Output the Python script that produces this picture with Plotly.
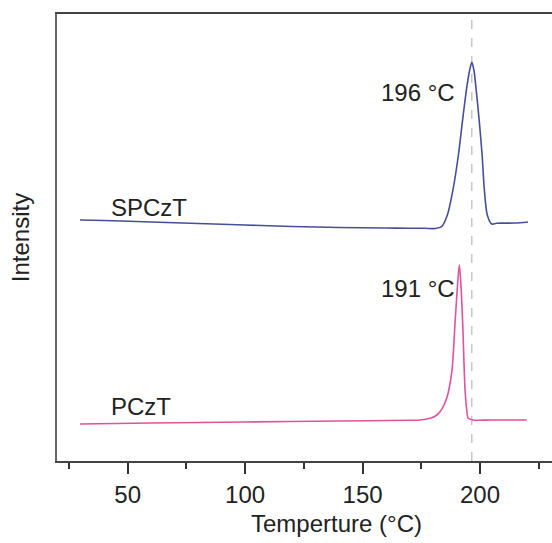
import plotly.graph_objects as go

# SPCzT trace (temperature in degC, intensity in arbitrary units)
spczt_T = [29.7, 40, 60, 80, 100, 120, 140, 160, 170, 176.6, 181.0, 183.7, 186.1, 188.6, 190.8, 192.5,
           194.3, 195.6, 196.5, 197.4, 198.3, 199.7, 200.9, 201.8, 203.1, 205.0, 207.0,
           210.6, 215, 220.4]
spczt_I = [241, 240.5, 239, 237.5, 236, 234.5, 233.5, 233, 232.8, 232.7, 232.5, 234.5, 246, 272.7, 306, 339.3,
           372.7, 391, 398.7, 391, 372.7, 339.3, 306, 272.7, 246, 237, 237.8,
           237.9, 238, 239]

# PCzT trace
pczt_T = [29.7, 60, 100, 140, 170, 174.5, 178.7, 181.0, 183.0, 185.8, 188.0, 189.4, 190.4, 191.2, 191.9,
          192.6, 193.6, 194.3, 195.0, 197.1, 205, 219.9]
pczt_I = [37, 38, 39, 40, 40.7, 41, 42.7, 45, 49.3, 62.7, 89.3, 139.3, 175, 196, 175,
          139.3, 72.7, 52, 42.7, 41, 41, 41]

peak_line_T = 196.5
labels = ["SPCzT", "PCzT"]
peak_labels = ["196 °C", "191 °C"]
tick_vals = [50, 100, 150, 200]

FONT = "Liberation Sans, Arial, sans-serif"
TXT = "#222222"
FS = 24

fig = go.Figure()
fig.add_trace(go.Scatter(x=spczt_T, y=spczt_I, mode="lines",
                         line=dict(color="#45509a", width=1.6, shape="spline", smoothing=0.8),
                         showlegend=False, hoverinfo="skip"))
fig.add_trace(go.Scatter(x=pczt_T, y=pczt_I, mode="lines",
                         line=dict(color="#e0529c", width=1.6, shape="spline", smoothing=0.8),
                         showlegend=False, hoverinfo="skip"))

fig.add_shape(type="line", xref="x", yref="paper", x0=peak_line_T, x1=peak_line_T, y0=0, y1=1,
              line=dict(color="#c0c0c0", width=1.3, dash="dash"), layer="below")

annos = [
    dict(x=42.0, y=254, text=labels[0]),
    dict(x=42.0, y=54.3, text=labels[1]),
    dict(x=156.8, y=369, text=peak_labels[0]),
    dict(x=156.8, y=173, text=peak_labels[1]),
]
for a in annos:
    fig.add_annotation(x=a["x"], y=a["y"], xref="x", yref="y", text=a["text"], showarrow=False,
                       xanchor="left", yanchor="middle", font=dict(family=FONT, size=FS, color=TXT))

fig.add_annotation(x=(336 - 57) / 495, y=0, xref="paper", yref="paper", yshift=-62,
                   text="Temperture (°C)", showarrow=False, xanchor="center", yanchor="middle",
                   font=dict(family=FONT, size=FS, color=TXT))

fig.update_layout(
    width=552, height=543,
    margin=dict(l=57, r=0, t=14, b=82),
    paper_bgcolor="white", plot_bgcolor="white",
    font=dict(family=FONT, size=FS, color=TXT),
)

fig.update_xaxes(range=[19.9, 230.65], tickvals=tick_vals, ticks="outside", ticklen=11, tickwidth=1.5,
                 tickcolor="#333", showline=True, linecolor="#444", linewidth=2, mirror=True,
                 showgrid=False, zeroline=False,
                 tickfont=dict(family=FONT, size=FS, color=TXT),
                 minor=dict(tickmode="array", tickvals=[25, 75, 125, 175, 225], ticks="outside",
                            ticklen=6, tickwidth=1.5, tickcolor="#333"))
fig.update_yaxes(range=[0, 447], showticklabels=False, ticks="", showline=True, linecolor="#666",
                 linewidth=2, showgrid=False, zeroline=False,
                 title=dict(text="Intensity", font=dict(family=FONT, size=FS, color=TXT), standoff=19))

fig.write_html("out.html")
